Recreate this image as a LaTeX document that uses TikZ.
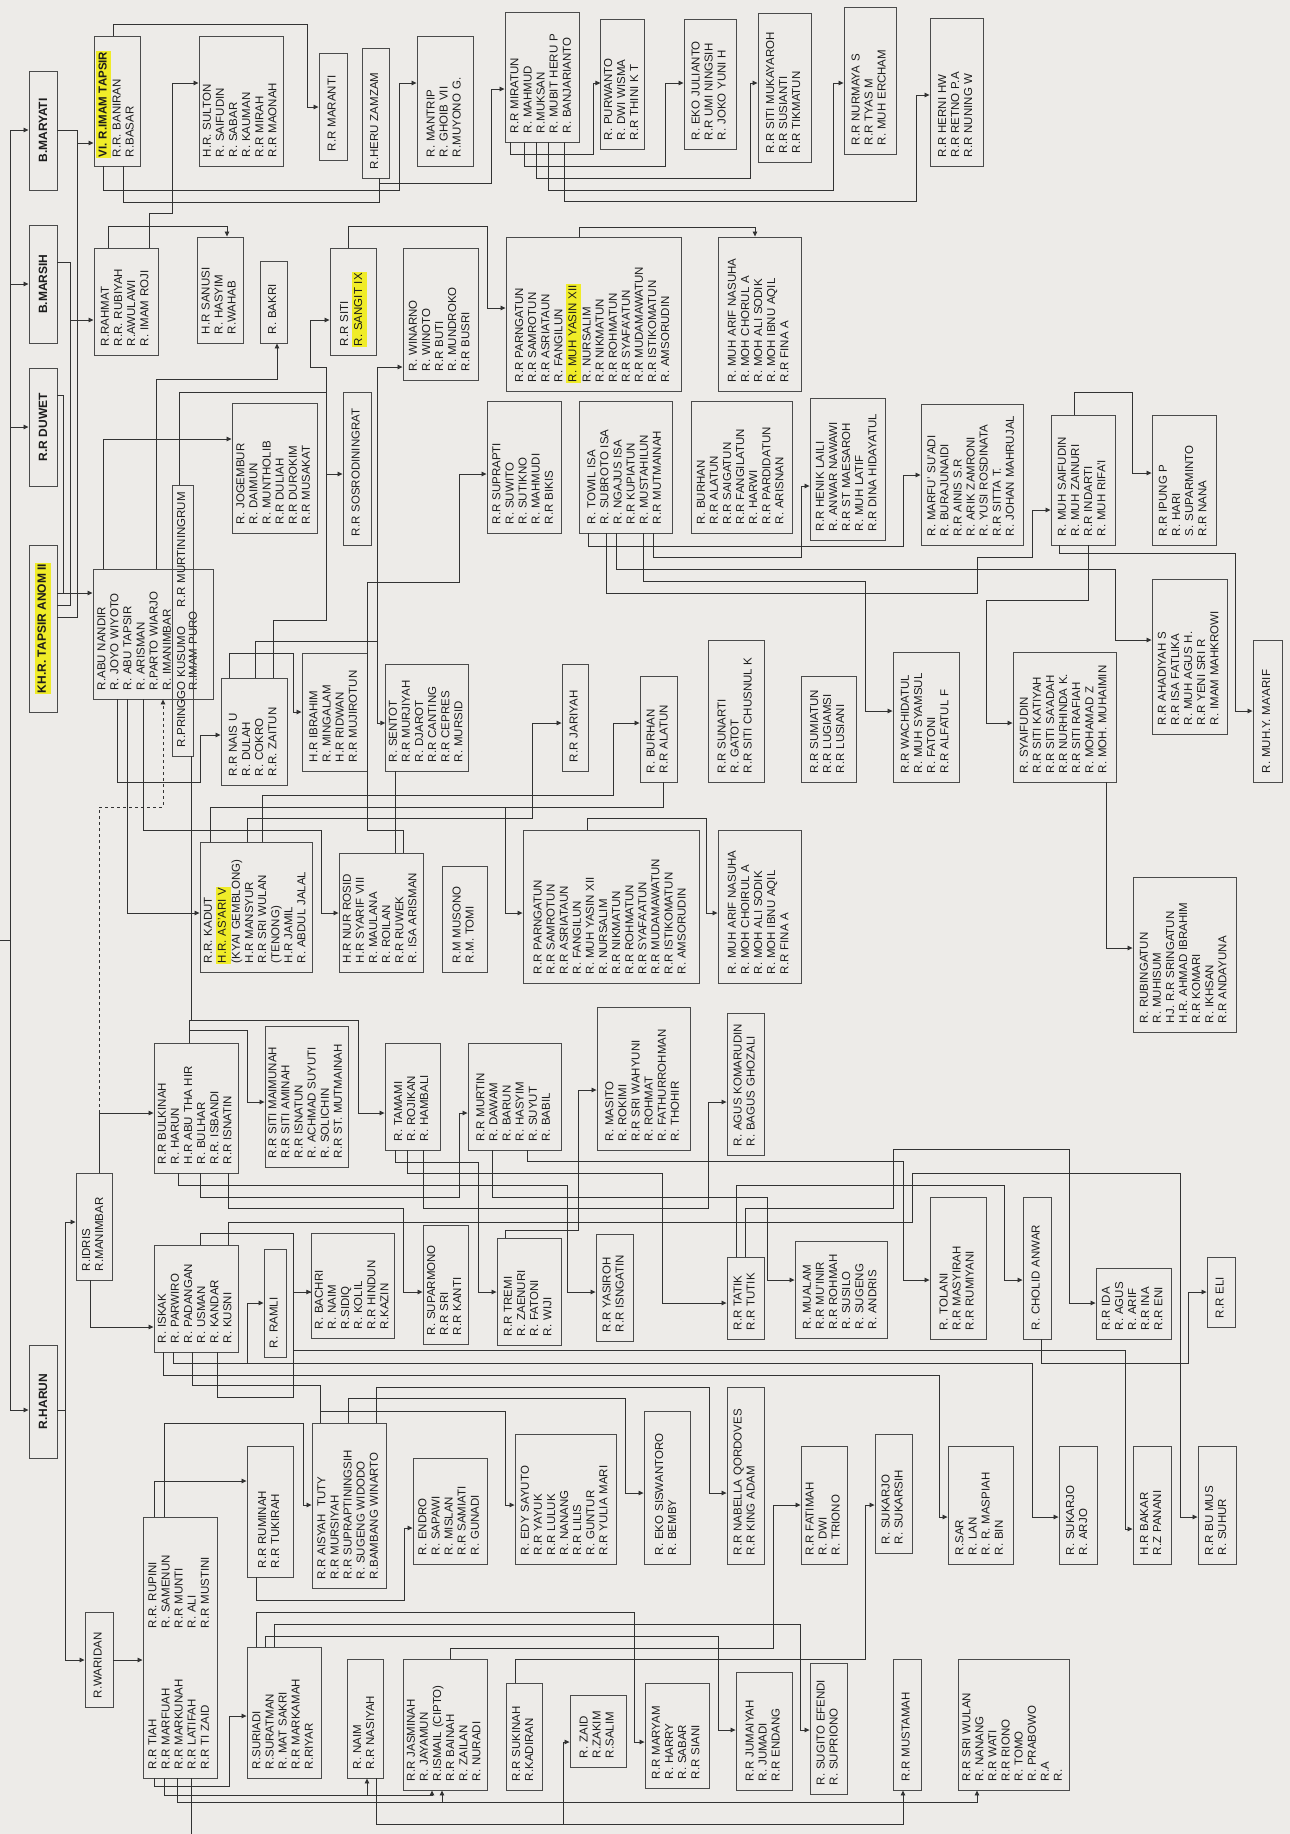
\documentclass[tikz,border=0pt]{standalone}
\usepackage{fontspec}
\setmainfont{Liberation Sans}
\usetikzlibrary{arrows.meta}
\definecolor{paper}{RGB}{237,235,232}
\definecolor{ink}{RGB}{28,28,28}
\definecolor{edge}{RGB}{75,75,75}
\definecolor{hly}{RGB}{240,236,40}
\newcommand\hl[1]{\rlap{\setlength{\fboxsep}{1pt}\hspace{-1pt}\colorbox{hly}{\strut\phantom{#1}}}#1}
\newcommand\kel[7][]{%
  \pgfmathsetmacro\kelw{#5-#3}%
  \pgfmathsetmacro\kelh{#6-#4}%
  \pgfmathsetmacro\kelt{#6-#4-18}%
  \node[box,minimum width=\kelh pt,minimum height=\kelw pt,text width=\kelt pt,#1]
    (#2) at ({(#3+#5)/2},{(#4+#6)/2}) {\begin{tabular}{@{}l@{}}#7\end{tabular}};}
\begin{document}
\begin{tikzpicture}[x=1pt,y=-1pt,
  box/.style={draw=edge,line width=0.9pt,rotate=90,align=left,inner xsep=9pt,inner ysep=2pt,
    text=ink,font=\fontsize{11.5}{13.1}\selectfont},
  root/.style={draw=edge,line width=0.9pt,rotate=90,inner sep=0pt,text=ink,
    font=\fontsize{12}{14}\selectfont\bfseries},
  ln/.style={draw=ink!90,line width=0.85pt},
  arr/.style={ln,-{Triangle[length=5pt,width=4.5pt]}}]
\useasboundingbox (0,0) rectangle (1290,1834);
\fill[paper] (0,0) rectangle (1290,1834);

\node[root,minimum width=119pt,minimum height=28pt] (maryati) at (43,130.5) {B.MARYATI};
\node[root,minimum width=118pt,minimum height=28pt] (marsih) at (43,284) {B.MARSIH};
\node[root,minimum width=118pt,minimum height=28pt] (duwet) at (43,427) {R.R DUWET};
\node[root,minimum width=167pt,minimum height=28pt] (tapsir) at (43,628.5) {\hl{KH.R. TAPSIR ANOM II}};
\node[root,minimum width=113pt,minimum height=28pt] (harun) at (43,1401.5) {R.HARUN};

\kel{imam}{94}{36}{140}{166}{\hl{\textbf{VI. R.IMAM TAPSIR}}\\ R.R. BANIRAN\\ R.BASAR}
\kel{rahmat}{94}{248}{158}{355}{R.RAHMAT\\ R.R. RUBIYAH\\ R.AWULAWI\\ R. IMAM ROJI}
\kel{sulton}{199}{36}{283}{166}{H.R. SULTON\\ R. SAIFUDIN\\ R. SABAR\\ R. KAUMAN\\ R.R MIRAH\\ R.R MAONAH}
\kel{sanusi}{197}{237}{243}{343}{H.R SANUSI\\ R. HASYIM\\ R.WAHAB}
\kel{bakri}{260}{261}{287}{343}{R. BAKRI}
\kel{maranti}{319}{53}{347}{160}{R.R MARANTI}
\kel{heru}{362}{48}{389}{178}{R.HERU ZAMZAM}
\kel{siti}{330}{248}{376}{355}{R.R SITI\\ \hl{R. SANGIT IX}}
\kel{mantrip}{417}{36}{473}{166}{R. MANTRIP\\ R. GHOIB VII\\ R.MUYONO G.}
\kel{winarno}{403}{248}{478}{380}{R. WINARNO\\ R. WINOTO\\ R.R BUTI\\ R. MUNDROKO\\ R.R BUSRI}
\kel{miratun}{505}{12}{579}{142}{R.R MIRATUN\\ R. MAHMUD\\ R.MUKSAN\\ R. MUBIT HERU P\\ R. BANJARIANTO}
\kel{purwanto}{601}{19}{644}{149}{R. PURWANTO\\ R. DWI WISMA\\ R.R THINI K T}
\kel{eko}{684}{19}{736}{149}{R. EKO JULIANTO\\ R.R UMI NINGSIH\\ R. JOKO YUNI H}
\kel{mukayaroh}{758}{13}{811}{162}{R.R SITI MUKAYAROH\\ R.R SUSIANTI\\ R.R TIKMATUN}
\kel{nurmaya}{844}{7}{896}{154}{R.R NURMAYA S\\ R.R TYAS M\\ R. MUH ERCHAM}
\kel{herni}{930}{18}{983}{166}{R.R HERNI HW\\ R.R RETNO P.A\\ R.R NUNING W}
\kel{parng}{506}{237}{681}{391}{R.R PARNGATUN\\ R.R SAMROTUN\\ R.R ASRIATAUN\\ R. FANGILUN\\ \hl{R. MUH YASIN XII}\\ R. NURSALIM\\ R.R NIKMATUN\\ R.R ROHMATUN\\ R.R SYAFA'ATUN\\ R.R MUDAMAWATUN\\ R.R ISTIKOMATUN\\ R. AMSORUDIN}
\kel{arif}{718}{237}{801}{391}{R. MUH ARIF NASUHA\\ R. MOH CHORUL A\\ R. MOH ALI SODIK\\ R. MOH IBNU AQIL\\ R.R FINA A}
\kel{abunandir}{93}{569}{213}{699}{R.ABU NANDIR\\ R. JOYO WIYOTO\\ R. ABU TAPSIR\\ R. ARISMAN\\ R.PARTO WIARJO\\ R. IMANIMBAR\\ \mbox{}\\ R.IMAM PURO\\[9pt]}
\kel{pringgo}{172}{485}{193}{756}{\makebox[140pt][l]{R.PRINGGO KUSUMO}R.R MURTININGRUM}
\kel{jogembur}{232}{403}{317}{533}{R. JOGEMBUR\\ R. DAIMUN\\ R. MUNTHOLIB\\ R.R DULIAH\\ R.R DUROKIM\\ R.R MUSAKAT}
\kel{sosro}{343}{392}{371}{545}{R.R SOSRODININGRAT}
\kel{naisu}{221}{678}{287}{785}{R.R NAIS U\\ R. DULAH\\ R. COKRO\\ R.R. ZAITUN}
\kel{ibrahim}{302}{653}{367}{771}{H.R IBRAHIM\\ R. MINGALAM\\ H.R RIDWAN\\ R.R MUJIROTUN}
\kel{sentot}{386}{664}{468}{771}{R. SENTOT\\ R.R MURJIYAH\\ R. DJAROT\\ R.R CANTING\\ R.R CEPRES\\ R. MURSID}
\kel{kadut}{200}{842}{312}{972}{R.R. KADUT\\ \hl{H.R. AS'ARI V}\\ (KYAI GEMBLONG)\\ H.R MANSYUR\\ R.R SRI WULAN\\ (TENONG)\\ H.R JAMIL\\ R. ABDUL JALAL}
\kel{nurrosid}{339}{853}{423}{972}{H.R NUR ROSID\\ H.R SYARIF VIII\\ R. MAULANA\\ R. ROILAN\\ R.R RUWEK\\ R. ISA ARISMAN}
\kel{musono}{442}{866}{487}{972}{R.M MUSONO\\ R.M. TOMI}
\kel{suprapti}{487}{401}{561}{533}{R.R SUPRAPTI\\ R. SUWITO\\ R. SUTIKNO\\ R. MAHMUDI\\ R.R BIKIS}
\kel{towil}{579}{401}{672}{533}{R. TOWIL ISA\\ R. SUBROTO ISA\\ R. NGAJUS ISA\\ R.R KUPIATUN\\ R. MUSTAHILUN\\ R.R MUTMAINAH}
\kel{burhan}{691}{401}{792}{533}{R. BURHAN\\ R.R ALATUN\\ R.R SAIGATUN\\ R.R FANGILATUN\\ R. HARWI\\ R.R PARDIDATUN\\ R. ARISNAN}
\kel{henik}{810}{398}{885}{540}{R.R HENIK LAILI\\ R. ANWAR NAWAWI\\ R.R ST MAESAROH\\ R. MUH LATIF\\ R.R DINA HIDAYATUL}
\kel{marfu}{921}{404}{1023}{545}{R. MARFU' SU'ADI\\ R. BURAJUNAIDI\\ R.R AINIS S.R\\ R. ARIK ZAMRONI\\ R. YUSI ROSDINATA\\ R.R SITTA T.\\ R. JOHAN MAHRUJAL}
\kel{saifudin}{1051}{415}{1115}{545}{R. MUH SAIFUDIN\\ R. MUH ZAINURI\\ R.R INDARTI\\ R. MUH RIFA'I}
\kel{ipung}{1152}{415}{1216}{545}{R.R IPUNG P\\ R. HARI\\ S. SUPARMINTO\\ R.R NANA}
\kel{jariyah}{562}{664}{588}{771}{R.R JARIYAH}
\kel{burhan2}{640}{676}{677}{782}{R. BURHAN\\ R.R ALATUN}
\kel{sunarti}{708}{640}{764}{782}{R.R SUNARTI\\ R. GATOT\\ R.R SITI CHUSNUL K}
\kel{sumiatun}{801}{676}{856}{782}{R.R SUMIATUN\\ R.R LUGIAMSI\\ R.R LUSIANI}
\kel{wachid}{893}{652}{959}{782}{R.R WACHIDATUL\\ R. MUH SYAMSUL\\ R. FATONI\\ R.R ALFATUL F}
\kel{syaifudin}{1013}{652}{1116}{782}{R. SYAIFUDIN\\ R.R SITI KATIYAH\\ R.R SITI SA'ADAH\\ R.R NURHINDA K.\\ R.R SITI RAFIAH\\ R. MOHAMAD Z\\ R. MOH. MUHAIMIN}
\kel{ahadiyah}{1152}{579}{1227}{734}{R.R AHADIYAH S\\ R.R ISA FATLIKA\\ R. MUH AGUS H.\\ R.R YENI SRI R\\ R. IMAM MAHKROWI}
\kel{maarif}{1253}{640}{1282}{782}{R. MUH.Y. MA'ARIF}
\kel{rubing}{1133}{877}{1236}{1032}{R. RUBINGATUN\\ R. MUHISUM\\ HJ. R.R SRINGATUN\\ H.R. AHMAD IBRAHIM\\ R.R KOMARI\\ R. IKHSAN\\ R.R ANDAYUNA}
\kel{parng2}{523}{830}{699}{983}{R.R PARNGATUN\\ R.R SAMROTUN\\ R.R ASRIATAUN\\ R. FANGILUN\\ R. MUH YASIN XII\\ R. NURSALIM\\ R.R NIKMATUN\\ R.R ROHMATUN\\ R.R SYAFA'ATUN\\ R.R MUDAMAWATUN\\ R.R ISTIKOMATUN\\ R. AMSORUDIN}
\kel{arif2}{718}{830}{801}{983}{R. MUH ARIF NASUHA\\ R. MOH CHOIRUL A\\ R. MOH ALI SODIK\\ R. MOH IBNU AQIL\\ R.R FINA A}
\kel{idris}{76}{1173}{112}{1280}{R.IDRIS\\ R.MANIMBAR}
\kel{bulkinah}{154}{1043}{238}{1173}{R.R BULKINAH\\ R. HARUN\\ H.R ABU THA HIR\\ R. BULHAR\\ R.R. ISBANDI\\ R.R ISNATIN}
\kel{iskak}{154}{1245}{238}{1352}{R. ISKAK\\ R. PARWIRO\\ R. PADANGAN\\ R. USMAN\\ R. KANDAR\\ R. KUSNI}
\kel{maimunah}{265}{1026}{348}{1167}{R.R SITI MAIMUNAH\\ R.R SITI AMINAH\\ R.R ISNATUN\\ R. ACHMAD SUYUTI\\ R. SOLICHIN\\ R.R ST. MUTMAINAH}
\kel{tamami}{385}{1043}{440}{1150}{R. TAMAMI\\ R. ROJIKAN\\ R. HAMBALI}
\kel{ramli}{264}{1249}{286}{1357}{R. RAMLI}
\kel{bachri}{312}{1233}{394}{1338}{R. BACHRI\\ R. NAIM\\ R.SIDIQ\\ R. KOLIL\\ R.R HINDUN\\ R.KAZIN}
\kel{suparmono}{423}{1225}{468}{1344}{R. SUPARMONO\\ R.R SRI\\ R.R KANTI}
\kel{murtin}{468}{1043}{561}{1150}{R.R MURTIN\\ R. DAWAM\\ R. BARUN\\ R. HASYIM\\ R. SUYUT\\ R. BABIL}
\kel{masito}{597}{1007}{690}{1150}{R. MASITO\\ R. ROKIMI\\ R.R SRI WAHYUNI\\ R. ROHMAT\\ R. FATHURROHMAN\\ R. THOHIR}
\kel{agus}{727}{1013}{764}{1155}{R. AGUS KOMARUDIN\\ R. BAGUS GHOZALI}
\kel{tremi}{497}{1238}{561}{1345}{R.R TREMI\\ R. ZAENURI\\ R. FATONI\\ R. WIJI}
\kel{yasiroh}{596}{1234}{633}{1341}{R.R YASIROH\\ R.R ISNGATIN}
\kel{tatik}{727}{1257}{764}{1339}{R.R TATIK\\ R.R TUTIK}
\kel{mualam}{795}{1241}{887}{1338}{R. MUALAM\\ R.R MU'INIR\\ R.R ROHMAH\\ R. SUSILO\\ R. SUGENG\\ R. ANDRIS}
\kel{tolani}{930}{1197}{986}{1339}{R. TOLANI\\ R.R MASYIRAH\\ R.R RUMIYANI}
\kel{cholid}{1023}{1197}{1051}{1339}{R. CHOLID ANWAR}
\kel{ida}{1096}{1268}{1171}{1339}{R.R IDA\\ R. AGUS\\ R. ARIF\\ R.R INA\\ R.R ENI}
\kel{eli}{1207}{1257}{1235}{1327}{R.R ELI}
\kel{waridan}{85}{1612}{113}{1707}{R.WARIDAN}
\kel{tiah}{143}{1517}{217}{1778}{\makebox[141pt][l]{R.R TIAH}R.R. RUPINI\\ \makebox[141pt][l]{R.R MARFUAH}R. SAMENUN\\ \makebox[141pt][l]{R.R MARKUNAH}R.R MUNTI\\ \makebox[141pt][l]{R.R LATIFAH}R. ALI\\ \makebox[141pt][l]{R.R TI ZAID}R.R MUSTINI}
\kel{ruminah}{247}{1446}{293}{1577}{R.R RUMINAH\\ R.R TUKIRAH}
\kel{aisyah}{312}{1423}{386}{1588}{R.R AISYAH~~TUTY\\ R.R MURSIYAH\\ R.R SUPRAPTININGSIH\\ R. SUGENG WIDODO\\ R.BAMBANG WINARTO}
\kel{endro}{413}{1458}{487}{1564}{R. ENDRO\\ R. SAPAWI\\ R. MISLAN\\ R.R SAMIATI\\ R. GUNADI}
\kel{edy}{515}{1434}{616}{1564}{R. EDY SAYUTO\\ R.R YAYUK\\ R.R LULUK\\ R. NANANG\\ R.R LILIS\\ R. GUNTUR\\ R.R YULIA MARI}
\kel{ekosis}{644}{1411}{690}{1564}{R. EKO SISWANTORO\\ R. BEMBY}
\kel{nabella}{727}{1387}{764}{1564}{R.R NABELLA QORDOVES\\ R.R KING ADAM}
\kel{fatimah}{801}{1446}{847}{1564}{R.R FATIMAH\\ R. DWI\\ R. TRIONO}
\kel{sukarjo}{875}{1434}{912}{1553}{R. SUKARJO\\ R. SUKARSIH}
\kel{sar}{948}{1446}{1013}{1564}{R.SAR\\ R. LAN\\ R. R. MASPIAH\\ R. BIN}
\kel{arjo}{1059}{1446}{1097}{1564}{R. SUKARJO\\ R. ARJO}
\kel{bakar}{1133}{1446}{1171}{1564}{H.R BAKAR\\ R.Z PANANI}
\kel{bumus}{1198}{1446}{1236}{1564}{R.R BU MUS\\ R. SUHUR}
\kel{suriadi}{247}{1647}{321}{1778}{R.SURIADI\\ R.SURATMAN\\ R. MAT SAKRI\\ R.R MARKAMAH\\ R.RIYAR}
\kel{naim}{347}{1659}{383}{1778}{R. NAIM\\ R.R NASIYAH}
\kel{jasminah}{403}{1659}{487}{1790}{R.R JASMINAH\\ R. JAYAMUN\\ R.ISMAIL (CIPTO)\\ R.R BAINAH\\ R. ZAILAN\\ R. NURADI}
\kel{sukinah}{506}{1683}{542}{1790}{R.R SUKINAH\\ R.KADIRAN}
\kel{zaid}{570}{1695}{626}{1767}{R. ZAID\\ R.ZAKIM\\ R.SALIM}
\kel{maryam}{645}{1683}{709}{1788}{R.R MARYAM\\ R. HARRY\\ R. SABAR\\ R.R SIANI}
\kel{jumaiyah}{736}{1672}{792}{1790}{R.R JUMAIYAH\\ R. JUMADI\\ R.R ENDANG}
\kel{sugito}{810}{1663}{847}{1794}{R. SUGITO EFENDI\\ R. SUPRIONO}
\kel{mustamah}{893}{1659}{921}{1790}{R.R MUSTAMAH}
\kel{sriwulan}{958}{1659}{1069}{1790}{R.R SRI WULAN\\ R. NANANG\\ R.R WATI\\ R.R RIONO\\ R. TOMO\\ R. PRABOWO\\ R.A\\ R.}

\coordinate (bt) at (10,130);
\coordinate (bb) at (10,1410);
\coordinate (in) at (0,940);
\draw[ln] (bt) -- (bb);
\draw[ln] (in) -- (in -| bt);
\draw[arr] (bt) -- (maryati.north |- bt);
\draw[arr] (bt |- marsih) -- (marsih.north);
\draw[arr] (bt |- duwet) -- (duwet.north);
\draw[arr] (bb) -- (harun.north |- bb);

\draw[ln] (maryati.south) -| (77,617) -- (tapsir.south |- 0,617);
\draw[arr] (maryati.south) -| (77,143) -- (imam.north |- 0,143);
\draw[ln] (marsih.south |- 0,262) -| (70,605) -- (tapsir.south |- 0,605);
\draw[arr] (marsih.south |- 0,262) -| (70,320) -- (rahmat.north |- 0,320);
\draw[ln] (duwet.south |- 0,395) -| (63,593);
\draw[arr] (tapsir.south |- 0,593) -- (abunandir.north |- 0,593);

\draw[arr] (imam.east -| 113,0) |- (307,24) |- (maranti.north |- 0,107);
\draw[arr] (imam.west -| 103,0) |- (399,190) |- (mantrip.north |- 0,83);
\draw[ln] (imam.west -| 123,0) |- (379,202) -- (heru.west -| 379,0);
\draw[arr] (heru.west -| 379,0) |- (491,183) |- (miratun.north |- 0,89);
\draw[arr] (rahmat.east -| 108,0) |- (227,226) -- (sanusi.east -| 227,0);
\draw[arr] (rahmat.east -| 149,0) |- (172,213) |- (sulton.north |- 0,83);
\draw[arr] (siti.east -| 348,0) |- (487,226) |- (parng.north |- 0,308);
\draw[arr] (parng.east -| 579,0) |- (755,227) -- (arif.east -| 755,0);
\draw[arr] (miratun.west -| 510,0) |- (593,154) |- (purwanto.north |- 0,83);
\draw[arr] (miratun.west -| 524,0) |- (665,166) |- (eko.north |- 0,83);
\draw[arr] (miratun.west -| 536,0) |- (750,178) |- (mukayaroh.north |- 0,83);
\draw[arr] (miratun.west -| 548,0) |- (833,190) |- (nurmaya.north |- 0,83);
\draw[arr] (miratun.west -| 564,0) |- (916,201) |- (herni.north |- 0,95);

\draw[arr] (abunandir.east -| 103,0) |- (jogembur.north |- 0,439);
\draw[arr] (abunandir.east -| 156,0) |- (277,379) -- (bakri.west -| 277,0);
\draw[ln] (pringgo.east -| 179,0) |- (326,392);
\draw[arr] (naisu.east -| 273,0) |- (326,620) |- (sosro.north |- 0,474);
\draw[arr] (naisu.east -| 273,0) |- (326,620) |- (310,367) |- (siti.north |- 0,320);
\draw[arr] (naisu.east -| 229,0) |- (293,653) |- (ibrahim.north |- 0,712);
\draw[arr] (naisu.east -| 255,0) |- (377,641) |- (winarno.north |- 0,367);
\draw[arr] (naisu.east -| 255,0) |- (377,641) |- (sentot.north |- 0,723);
\draw[arr] (nurrosid.east -| 403,0) |- (367,830) |- (459,582) |- (suprapti.north |- 0,474);
\draw[ln] (sentot.west -| 395,0) -- (nurrosid.east -| 395,0);
\draw[arr] (abunandir.west -| 117,0) |- (200,782) |- (naisu.north |- 0,735);
\draw[arr] (abunandir.west -| 127,0) |- (kadut.north |- 0,913);
\draw[arr] (abunandir.west -| 143,0) |- (321,830) |- (nurrosid.north |- 0,913);
\draw[arr,dashed] (idris.east -| 99,0) -- (99,807) -| (abunandir.west -| 163,0);
\draw[arr] (idris.east -| 99,0) |- (bulkinah.north |- 0,1113);
\draw[ln] (pringgo.west -| 191,0) -- (191,1020);
\draw[arr] (bulkinah.east -| 189,0) |- (358,1020) |- (tamami.north |- 0,1113);
\draw[arr] (bulkinah.east -| 189,0) |- (247,1030) |- (maimunah.north |- 0,1102);

\draw[arr] (kadut.east -| 262,0) |- (613,795) |- (burhan2.north |- 0,723);
\draw[arr] (kadut.east -| 247,0) |- (532,818) |- (jariyah.north |- 0,723);
\draw[ln] (kadut.east -| 210,0) |- (663,807) -- (burhan2.west -| 663,0);
\draw[arr] (kadut.east -| 210,0) |- (505,807) |- (parng2.north |- 0,913);
\draw[arr] (parng2.east -| 587,0) |- (706,818) |- (arif2.north |- 0,913);

\draw[arr] (towil.west -| 653,0) |- (801,557) |- (henik.north |- 0,486);
\draw[arr] (towil.west -| 588,0) |- (903,546) |- (marfu.north |- 0,475);
\draw[arr] (towil.west -| 616,0) |- (1115,569) |- (ahadiyah.north |- 0,640);
\draw[arr] (towil.west -| 643,0) |- (865,581) |- (wachid.north |- 0,711);
\draw[arr] (towil.west -| 606,0) |- (977,593) |- (1032,557) |- (saifudin.north |- 0,510);
\draw[arr] (saifudin.west -| 1059,0) |- (1235,553) |- (maarif.north |- 0,711);
\draw[arr] (saifudin.west -| 1088,0) |- (986,600) |- (syaifudin.north |- 0,723);
\draw[arr] (saifudin.east -| 1074,0) |- (1132,392) |- (ipung.north |- 0,473);
\draw[arr] (syaifudin.west -| 1106,0) |- (rubing.north |- 0,948);

\draw[arr] (bulkinah.west -| 178,0) |- (567,1185) |- (yasiroh.north |- 0,1292);
\draw[arr] (bulkinah.west -| 200,0) |- (459,1197) |- (murtin.north |- 0,1113);
\draw[arr] (bulkinah.west -| 228,0) |- (403,1208) |- (suparmono.north |- 0,1292);
\draw[arr] (tamami.west -| 395,0) |- (478,1162) |- (tremi.north |- 0,1292);
\draw[arr] (tamami.west -| 407,0) |- (662,1173) |- (tatik.north |- 0,1303);
\draw[arr] (tamami.west -| 423,0) |- (708,1208) |- (agus.north |- 0,1102);
\draw[arr] (murtin.west -| 492,0) |- (767,1197) |- (mualam.north |- 0,1280);
\draw[arr] (murtin.west -| 527,0) |- (903,1161) |- (tolani.north |- 0,1280);
\draw[arr] (tatik.east -| 736,0) |- (1004,1185) |- (cholid.north |- 0,1280);
\draw[arr] (tatik.east -| 745,0) |- (893,1208) |- (1069,1149) |- (ida.north |- 0,1303);
\draw[arr] (cholid.west -| 1041,0) |- (1188,1363) |- (eli.north |- 0,1292);
\draw[arr] (tremi.east -| 505,0) |- (578,1230) |- (masito.north |- 0,1090);

\draw[arr] (idris.west -| 90,0) |- (iskak.north |- 0,1327);
\draw[arr] (iskak.east -| 200,0) |- (293,1233) |- (bachri.north |- 0,1292);
\draw[arr] (iskak.east -| 200,0) |- (293,1233) |- (1125,1350) |- (bakar.north |- 0,1529);
\draw[arr] (iskak.east -| 228,0) |- (912,1222) |- (1180,1173) |- (bumus.north |- 0,1517);
\draw[arr] (iskak.west -| 173,0) |- (247,1363) |- (ramli.north |- 0,1303);
\draw[arr] (iskak.west -| 173,0) |- (1032,1363) |- (arjo.north |- 0,1517);
\draw[arr] (iskak.west -| 163,0) |- (939,1375) |- (sar.north |- 0,1517);
\draw[ln] (iskak.west -| 192,0) |- (320,1385) -- (aisyah.east -| 320,0);
\draw[ln] (iskak.west -| 217,0) |- (293,1397) |- (bachri.north |- 0,1292);

\draw[arr] (harun.south |- 0,1410) -| (65,1222) -- (idris.north |- 0,1222);
\draw[arr] (harun.south |- 0,1410) -| (65,1660) -- (waridan.north |- 0,1660);
\draw[arr] (waridan.south |- 0,1660) -- (tiah.north |- 0,1660);
\draw[arr] (tiah.east -| 154,0) |- (ruminah.north |- 0,1481);
\draw[arr] (tiah.east -| 164,0) |- (303,1423) |- (aisyah.north |- 0,1505);
\draw[arr] (ruminah.west -| 256,0) |- (404,1600) |- (endro.north |- 0,1528);
\draw[arr] (aisyah.east -| 320,0) |- (505,1411) |- (edy.north |- 0,1505);
\draw[arr] (aisyah.east -| 348,0) |- (625,1398) |- (ekosis.north |- 0,1493);
\draw[arr] (aisyah.east -| 376,0) |- (709,1387) |- (nabella.north |- 0,1493);
\draw[arr] (tiah.west -| 154,0) |- (229,1786) |- (suriadi.north |- 0,1716);
\draw[arr] (tiah.west -| 164,0) |- (367,1795) -- (naim.west -| 367,0);
\draw[arr] (tiah.west -| 164,0) |- (432,1795) -- (jasminah.west -| 432,0);
\draw[arr] (tiah.west -| 177,0) |- (442,1802) -- (jasminah.west -| 442,0);
\draw[arr] (tiah.west -| 177,0) |- (977,1802) -- (sriwulan.west -| 977,0);
\draw[ln] (tiah.west -| 191,0) -- ++(0,56);
\draw[arr] (naim.west -| 376,0) |- (903,1824) -- (mustamah.west -| 903,0);
\draw[arr] (naim.west -| 376,0) |- (563,1824) |- (zaid.north |- 0,1742);
\draw[arr] (suriadi.east -| 256,0) |- (634,1612) |- (maryam.north |- 0,1742);
\draw[arr] (suriadi.east -| 274,0) |- (800,1624) |- (sugito.north |- 0,1730);
\draw[arr] (suriadi.east -| 265,0) |- (718,1636) |- (jumaiyah.north |- 0,1730);
\draw[arr] (jasminah.east -| 450,0) |- (773,1648) |- (fatimah.north |- 0,1505);
\draw[arr] (sukinah.east -| 515,0) |- (865,1659) |- (sukarjo.north |- 0,1505);
\end{tikzpicture}
\end{document}
